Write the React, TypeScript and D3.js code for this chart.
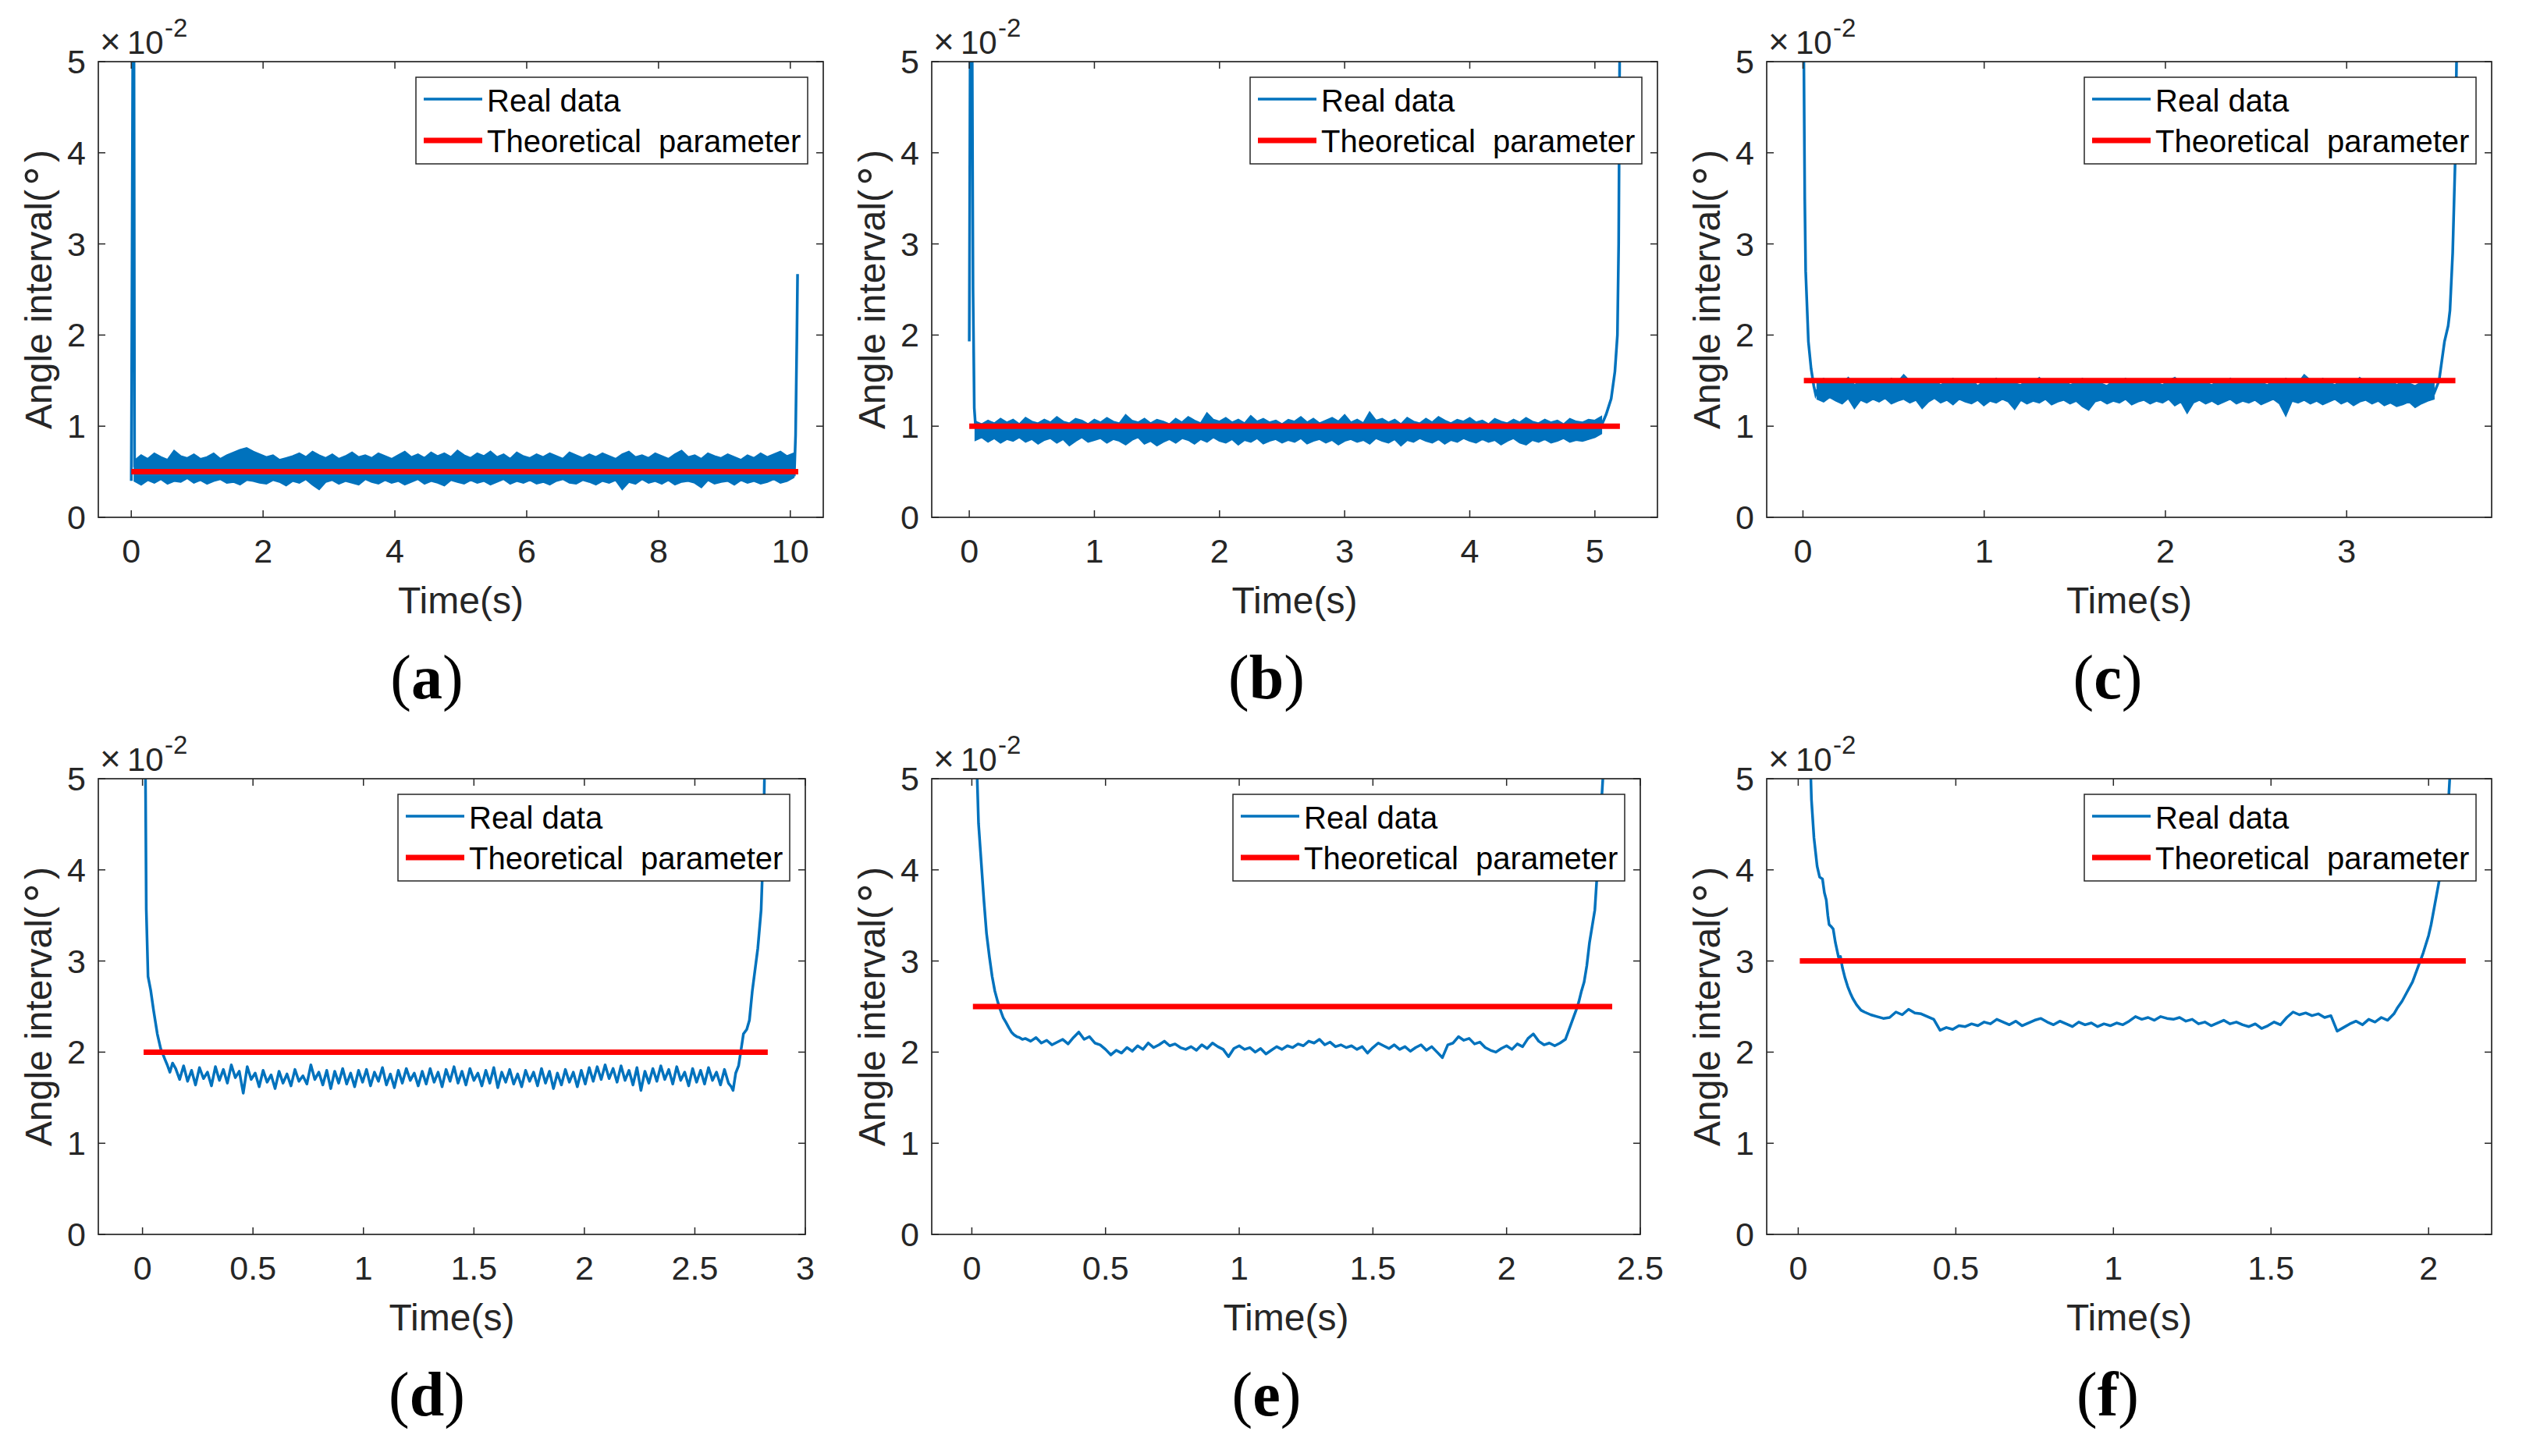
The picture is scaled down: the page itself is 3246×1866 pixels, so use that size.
import React from 'react';
import * as d3 from 'd3';

type Pt = [number, number];

// ---- data (angle interval in units of 1e-2 degree, time in s) ----
const yTicks = [0, 1, 2, 3, 4, 5];

const xDomainA = [-0.5, 10.5];
const xDomainB = [-0.3, 5.5];
const xDomainC = [-0.2, 3.8];
const xDomainD = [-0.2, 3];
const xDomainE = [-0.15, 2.5];
const xDomainF = [-0.1, 2.2];

const xTicksA = [0, 2, 4, 6, 8, 10];
const xTicksB = [0, 1, 2, 3, 4, 5];
const xTicksC = [0, 1, 2, 3];
const xTicksD = [0, 0.5, 1, 1.5, 2, 2.5, 3];
const xTicksE = [0, 0.5, 1, 1.5, 2, 2.5];
const xTicksF = [0, 0.5, 1, 1.5, 2];

// theoretical parameter: value and time span
const theoryValue = [0.5, 1.0, 1.5, 2.0, 2.5, 3.0];
const theorySpan: Pt[] = [[0, 10.12], [0, 5.2], [0.005, 3.6], [0.005, 2.83], [0.004, 2.395], [0.005, 2.118]];

// (a) dense noisy record: envelope per time bin
const aBandStart = 0.05, aBandStep = 0.1;
const aBandHi = [
  0.62, 0.68, 0.64, 0.70, 0.66, 0.63, 0.73, 0.67, 0.65, 0.69,
  0.64, 0.66, 0.70, 0.64, 0.68, 0.71, 0.74, 0.76, 0.72, 0.69,
  0.66, 0.68, 0.63, 0.65, 0.67, 0.70, 0.66, 0.72, 0.68, 0.65,
  0.69, 0.64, 0.67, 0.71, 0.66, 0.68, 0.65, 0.70, 0.67, 0.64,
  0.68, 0.72, 0.66, 0.69, 0.65, 0.71, 0.67, 0.70, 0.66, 0.73,
  0.68, 0.65, 0.70, 0.67, 0.72, 0.66, 0.69, 0.64, 0.71, 0.67,
  0.65, 0.69, 0.66, 0.70, 0.67, 0.64, 0.71, 0.68, 0.65, 0.69,
  0.66, 0.70, 0.67, 0.64, 0.69, 0.72, 0.66, 0.68, 0.65, 0.70,
  0.67, 0.64, 0.69, 0.73, 0.66, 0.68, 0.64, 0.70, 0.67, 0.65,
  0.69, 0.66, 0.63, 0.68, 0.65, 0.70, 0.66, 0.69, 0.72, 0.67,
  0.70,
];
const aBandLo = [
  0.40, 0.36, 0.41, 0.38, 0.42, 0.37, 0.40, 0.39, 0.43, 0.38,
  0.41, 0.37, 0.40, 0.42, 0.38, 0.39, 0.36, 0.41, 0.40, 0.38,
  0.37, 0.41, 0.39, 0.35, 0.40, 0.38, 0.42, 0.36, 0.31, 0.39,
  0.41, 0.37, 0.40, 0.38, 0.36, 0.42, 0.39, 0.37, 0.41, 0.38,
  0.40, 0.36, 0.39, 0.42, 0.37, 0.40, 0.38, 0.35, 0.41, 0.39,
  0.37, 0.41, 0.38, 0.40, 0.36, 0.39, 0.42, 0.37, 0.40, 0.38,
  0.41, 0.37, 0.39, 0.36, 0.40, 0.42, 0.38, 0.37, 0.41, 0.39,
  0.36, 0.40, 0.38, 0.41, 0.31, 0.39, 0.37, 0.42, 0.38, 0.40,
  0.37, 0.41, 0.36, 0.39, 0.40, 0.38, 0.33, 0.41, 0.37, 0.39,
  0.40, 0.36, 0.41, 0.38, 0.40, 0.37, 0.39, 0.42, 0.38, 0.40,
  0.44,
];
const aHead: Pt[] = [[0, 0.40], [0.005, 1.35], [0.025, 5.6], [0.04, 5.6], [0.05, 0.55]];
const aTail: Pt[] = [[10.05, 0.60], [10.06, 0.45], [10.08, 0.9], [10.10, 2.0], [10.11, 2.67]];

// (b)
const bBandStart = 0.05, bBandStep = 0.05;
const bBandHi = [
  1.05, 1.02, 1.06, 1.03, 1.08, 1.04, 1.07, 1.02, 1.09, 1.05,
  1.03, 1.07, 1.04, 1.10, 1.05, 1.03, 1.08, 1.06, 1.02, 1.07,
  1.04, 1.09, 1.05, 1.03, 1.12, 1.06, 1.04, 1.08, 1.03, 1.07,
  1.05, 1.02, 1.08, 1.04, 1.10, 1.06, 1.03, 1.14, 1.07, 1.05,
  1.09, 1.04, 1.07, 1.03, 1.11, 1.05, 1.08, 1.04, 1.06, 1.02,
  1.07, 1.05, 1.10, 1.04, 1.08, 1.03, 1.06, 1.09, 1.05, 1.12,
  1.04, 1.07, 1.03, 1.15, 1.06, 1.08, 1.04, 1.07, 1.02, 1.09,
  1.05, 1.03, 1.08, 1.04, 1.10, 1.06, 1.03, 1.07, 1.05, 1.09,
  1.04, 1.06, 1.02, 1.08, 1.05, 1.03, 1.07, 1.04, 1.09, 1.05,
  1.03, 1.07, 1.04, 1.06, 1.02, 1.08, 1.05, 1.04, 1.07, 1.06,
  1.10,
];
const bBandLo = [
  0.85, 0.88, 0.83, 0.87, 0.82, 0.86, 0.84, 0.88, 0.83, 0.86,
  0.81, 0.85, 0.87, 0.82, 0.86, 0.79, 0.84, 0.88, 0.83, 0.85,
  0.87, 0.82, 0.86, 0.84, 0.80, 0.85, 0.88, 0.81, 0.84, 0.79,
  0.83, 0.86, 0.82, 0.87, 0.85, 0.81, 0.86, 0.83, 0.88, 0.84,
  0.82, 0.86, 0.80, 0.85, 0.83, 0.87, 0.81, 0.84, 0.86, 0.82,
  0.85, 0.83, 0.87, 0.81, 0.84, 0.86, 0.82, 0.85, 0.80, 0.84,
  0.86, 0.83, 0.85, 0.81, 0.87, 0.84, 0.82, 0.86, 0.79, 0.85,
  0.83, 0.87, 0.84, 0.82, 0.86, 0.81, 0.85, 0.83, 0.87, 0.84,
  0.82, 0.86, 0.83, 0.85, 0.80, 0.84, 0.87, 0.82, 0.80, 0.85,
  0.83, 0.86, 0.82, 0.84, 0.87, 0.83, 0.85, 0.84, 0.86, 0.88,
  0.92,
];
const bHead: Pt[] = [[0, 1.93], [0.008, 5.6], [0.022, 5.6], [0.03, 2.5], [0.04, 1.2], [0.05, 1.0]];
const bTail: Pt[] = [[5.05, 1.0], [5.09, 1.13], [5.13, 1.3], [5.16, 1.6], [5.18, 2.0], [5.19, 3.0], [5.2, 5.6]];

// (c)
const cBandStart = 0.08, cBandStep = 0.034;
const cBandHi = [
  1.48, 1.52, 1.46, 1.50, 1.47, 1.53, 1.45, 1.49, 1.51, 1.46,
  1.50, 1.47, 1.52, 1.48, 1.56, 1.49, 1.46, 1.51, 1.47, 1.50,
  1.45, 1.49, 1.52, 1.46, 1.48, 1.51, 1.44, 1.49, 1.47, 1.52,
  1.46, 1.50, 1.47, 1.45, 1.51, 1.48, 1.53, 1.46, 1.49, 1.47,
  1.51, 1.45, 1.48, 1.52, 1.46, 1.49, 1.47, 1.44, 1.50, 1.48,
  1.52, 1.47, 1.49, 1.46, 1.51, 1.48, 1.45, 1.50, 1.53, 1.47,
  1.49, 1.46, 1.51, 1.48, 1.45, 1.50, 1.47, 1.52, 1.46, 1.49,
  1.47, 1.51, 1.48, 1.45, 1.50, 1.46, 1.52, 1.49, 1.47, 1.56,
  1.50, 1.47, 1.52, 1.48, 1.45, 1.51, 1.49, 1.46, 1.53, 1.48,
  1.46, 1.50, 1.47, 1.51, 1.45, 1.49, 1.47, 1.44, 1.48, 1.46,
  1.50,
];
const cBandLo = [
  1.30, 1.27, 1.32, 1.28, 1.25, 1.31, 1.20, 1.29, 1.26, 1.30,
  1.27, 1.31, 1.25, 1.28, 1.30, 1.26, 1.29, 1.20, 1.27, 1.31,
  1.26, 1.29, 1.24, 1.30, 1.27, 1.25, 1.29, 1.23, 1.28, 1.26,
  1.30, 1.27, 1.19, 1.29, 1.25, 1.28, 1.26, 1.30, 1.24, 1.27,
  1.29, 1.25, 1.28, 1.22, 1.18, 1.27, 1.29, 1.25, 1.28, 1.26,
  1.30, 1.24, 1.27, 1.29, 1.25, 1.28, 1.26, 1.30, 1.23, 1.27,
  1.15, 1.26, 1.29, 1.25, 1.28, 1.24, 1.27, 1.30, 1.25, 1.28,
  1.26, 1.29, 1.24, 1.27, 1.30, 1.25, 1.12, 1.28, 1.26, 1.29,
  1.25, 1.28, 1.24, 1.27, 1.30, 1.25, 1.28, 1.23, 1.27, 1.29,
  1.25, 1.28, 1.23, 1.26, 1.22, 1.24, 1.27, 1.21, 1.25, 1.28,
  1.30,
];
const cHead: Pt[] = [[0.003, 5.6], [0.01, 3.5], [0.015, 2.7], [0.03, 1.93], [0.045, 1.63], [0.06, 1.44], [0.07, 1.35], [0.08, 1.40]];
const cTail: Pt[] = [[3.48, 1.35], [3.51, 1.50], [3.54, 1.93], [3.56, 2.1], [3.57, 2.27], [3.585, 2.9], [3.6, 4.0], [3.61, 5.6]];

// (d) sampled record
const dHead: Pt[] = [[0.012, 5.6], [0.017, 3.57], [0.025, 2.83], [0.037, 2.68], [0.05, 2.46], [0.067, 2.2], [0.082, 2.04], [0.1, 1.93], [0.112, 1.86], [0.124, 1.78], [0.136, 1.88]];
const dMidStart = 0.15, dMidStep = 0.018;
const dMid = [
  1.82, 1.70, 1.85, 1.68, 1.80, 1.64, 1.83, 1.71, 1.78, 1.63, 1.84, 1.69,
  1.81, 1.66, 1.86, 1.72, 1.79, 1.55, 1.84, 1.70, 1.77, 1.62, 1.80, 1.67,
  1.75, 1.60, 1.79, 1.66, 1.76, 1.63, 1.81, 1.68, 1.74, 1.65, 1.86, 1.70,
  1.78, 1.64, 1.80, 1.60, 1.79, 1.66, 1.82, 1.65, 1.77, 1.62, 1.80, 1.67,
  1.81, 1.63, 1.78, 1.68, 1.83, 1.64, 1.76, 1.61, 1.80, 1.66, 1.82, 1.69,
  1.77, 1.63, 1.79, 1.65, 1.82, 1.67, 1.78, 1.62, 1.81, 1.68, 1.84, 1.66,
  1.79, 1.64, 1.82, 1.69, 1.77, 1.63, 1.80, 1.66, 1.83, 1.61, 1.78, 1.67,
  1.81, 1.65, 1.76, 1.62, 1.80, 1.68, 1.78, 1.63, 1.82, 1.66, 1.79, 1.60,
  1.77, 1.64, 1.81, 1.67, 1.78, 1.62, 1.80, 1.65, 1.83, 1.68, 1.84, 1.70,
  1.86, 1.71, 1.82, 1.67, 1.85, 1.69, 1.80, 1.64, 1.83, 1.58, 1.79, 1.66,
  1.82, 1.68, 1.85, 1.70, 1.81, 1.65, 1.84, 1.69, 1.78, 1.63, 1.82, 1.67,
  1.80, 1.65, 1.83, 1.69, 1.78, 1.64, 1.81, 1.66,
];
const dTail: Pt[] = [[2.665, 1.62], [2.673, 1.58], [2.685, 1.77], [2.698, 1.85], [2.71, 2.04], [2.72, 2.2], [2.735, 2.25], [2.747, 2.35], [2.76, 2.67], [2.785, 3.14], [2.8, 3.56], [2.81, 4.25], [2.815, 5.0], [2.82, 5.6]];

// (e)
const eHead: Pt[] = [[0.014, 5.6], [0.025, 4.51], [0.035, 4.09], [0.045, 3.67], [0.055, 3.3], [0.066, 3.04], [0.076, 2.83], [0.086, 2.67], [0.097, 2.55], [0.107, 2.46], [0.117, 2.38], [0.127, 2.33], [0.138, 2.27], [0.148, 2.22], [0.158, 2.19], [0.168, 2.17], [0.178, 2.16], [0.189, 2.14]];
const eMidStart = 0.2, eMidStep = 0.02;
const eMid = [
  2.15, 2.12, 2.16, 2.10, 2.13, 2.08, 2.11, 2.14, 2.09, 2.16,
  2.22, 2.14, 2.17, 2.10, 2.08, 2.03, 1.97, 2.02, 1.99, 2.05,
  2.01, 2.07, 2.03, 2.10, 2.05, 2.08, 2.12, 2.07, 2.09, 2.05,
  2.03, 2.06, 2.02, 2.08, 2.04, 2.10, 2.06, 2.03, 1.95, 2.04,
  2.07, 2.03, 2.05, 2.00, 2.04, 1.98, 2.02, 2.06, 2.03, 2.07,
  2.05, 2.09, 2.07, 2.12, 2.10, 2.14, 2.08, 2.11, 2.06, 2.08,
  2.05, 2.07, 2.03, 2.06, 1.99, 2.05, 2.10, 2.07, 2.04, 2.08,
  2.03, 2.06, 2.01, 2.05, 2.08, 2.02, 2.06, 2.00, 1.94, 2.08,
  2.10, 2.17, 2.13, 2.15, 2.09, 2.11, 2.05, 2.02, 2.00, 2.04,
  2.07, 2.03, 2.09, 2.06, 2.15, 2.20, 2.12, 2.08, 2.10, 2.07,
  2.10,
];
const eTail: Pt[] = [[2.22, 2.14], [2.24, 2.30], [2.26, 2.46], [2.27, 2.55], [2.28, 2.67], [2.29, 2.77], [2.30, 2.95], [2.31, 3.2], [2.33, 3.56], [2.345, 4.25], [2.36, 5.0], [2.365, 5.6]];

// (f)
const fHead: Pt[] = [[0.035, 5.6], [0.042, 4.77], [0.05, 4.35], [0.06, 4.04], [0.068, 3.92], [0.077, 3.9], [0.083, 3.75], [0.089, 3.67], [0.094, 3.5], [0.098, 3.40], [0.104, 3.38], [0.111, 3.35], [0.118, 3.2], [0.128, 3.04], [0.134, 3.05], [0.14, 2.93], [0.148, 2.82], [0.157, 2.72], [0.165, 2.65], [0.173, 2.59], [0.185, 2.52], [0.199, 2.46]];
const fMidStart = 0.21, fMidStep = 0.02;
const fMid = [
  2.44, 2.41, 2.39, 2.37, 2.38, 2.44, 2.41, 2.47, 2.43, 2.42,
  2.39, 2.36, 2.24, 2.27, 2.25, 2.29, 2.28, 2.31, 2.29, 2.33,
  2.31, 2.36, 2.33, 2.30, 2.34, 2.29, 2.32, 2.35, 2.37, 2.33,
  2.30, 2.34, 2.31, 2.28, 2.33, 2.30, 2.32, 2.28, 2.31, 2.29,
  2.32, 2.30, 2.34, 2.39, 2.36, 2.38, 2.35, 2.39, 2.37, 2.36,
  2.38, 2.34, 2.36, 2.31, 2.33, 2.29, 2.32, 2.35, 2.31, 2.33,
  2.30, 2.28, 2.31, 2.26, 2.29, 2.33, 2.30, 2.38, 2.44, 2.41,
  2.43, 2.40, 2.42, 2.38, 2.40, 2.23, 2.27, 2.31, 2.34, 2.30,
  2.36, 2.33, 2.38, 2.35, 2.42,
];
const fTail: Pt[] = [[1.90, 2.48], [1.916, 2.56], [1.93, 2.65], [1.949, 2.77], [1.965, 2.92], [1.983, 3.09], [2.0, 3.28], [2.008, 3.40], [2.025, 3.72], [2.042, 4.04], [2.059, 4.51], [2.067, 5.0], [2.07, 5.6]];

const panelKeys = ['a', 'b', 'c', 'd', 'e', 'f'];
const legendLabels = ['Real data', 'Theoretical  parameter'];

// ---- look ----
const BLUE = '#0072BD';
const RED = '#FF0000';
const INK = '#262626';
const SANS = '"Liberation Sans", Arial, Helvetica, sans-serif';
const SERIF = '"Liberation Serif", "Times New Roman", Times, serif';
const PH = 584;

interface Band { start: number; step: number; hi: number[]; lo: number[] }
interface Mid { start: number; step: number; values: number[] }
interface PanelSpec {
  key: string; left: number; right: number; top: number; labelX: number;
  domain: number[]; ticks: number[];
  head: Pt[]; tail: Pt[]; band?: Band; mid?: Mid;
  theory: number; span: Pt;
}

const layout = [
  { left: 126, right: 1055, top: 79, labelX: 547 },
  { left: 1194, right: 2124, top: 79, labelX: 1623 },
  { left: 2264, right: 3193, top: 79, labelX: 2701 },
  { left: 126, right: 1032, top: 998, labelX: 547 },
  { left: 1194, right: 2102, top: 998, labelX: 1623 },
  { left: 2264, right: 3193, top: 998, labelX: 2701 },
];

const panels: PanelSpec[] = [
  { key: panelKeys[0], ...layout[0], domain: xDomainA, ticks: xTicksA, head: aHead, tail: aTail,
    band: { start: aBandStart, step: aBandStep, hi: aBandHi, lo: aBandLo }, theory: theoryValue[0], span: theorySpan[0] },
  { key: panelKeys[1], ...layout[1], domain: xDomainB, ticks: xTicksB, head: bHead, tail: bTail,
    band: { start: bBandStart, step: bBandStep, hi: bBandHi, lo: bBandLo }, theory: theoryValue[1], span: theorySpan[1] },
  { key: panelKeys[2], ...layout[2], domain: xDomainC, ticks: xTicksC, head: cHead, tail: cTail,
    band: { start: cBandStart, step: cBandStep, hi: cBandHi, lo: cBandLo }, theory: theoryValue[2], span: theorySpan[2] },
  { key: panelKeys[3], ...layout[3], domain: xDomainD, ticks: xTicksD, head: dHead, tail: dTail,
    mid: { start: dMidStart, step: dMidStep, values: dMid }, theory: theoryValue[3], span: theorySpan[3] },
  { key: panelKeys[4], ...layout[4], domain: xDomainE, ticks: xTicksE, head: eHead, tail: eTail,
    mid: { start: eMidStart, step: eMidStep, values: eMid }, theory: theoryValue[4], span: theorySpan[4] },
  { key: panelKeys[5], ...layout[5], domain: xDomainF, ticks: xTicksF, head: fHead, tail: fTail,
    mid: { start: fMidStart, step: fMidStep, values: fMid }, theory: theoryValue[5], span: theorySpan[5] },
];

function Panel({ p }: { p: PanelSpec }) {
  const bottom = p.top + PH;
  const x = d3.scaleLinear().domain(p.domain).range([p.left, p.right]);
  const y = d3.scaleLinear().domain([0, 5]).range([bottom, p.top]);
  const line = d3.line<Pt>().x(d => x(d[0])).y(d => y(d[1]));
  const clipId = 'clip-' + p.key;

  let blue: React.ReactNode = null;
  if (p.band) {
    const b = p.band;
    const rows = b.hi.map((h, i) => ({ t: b.start + i * b.step, hi: h, lo: b.lo[i] }));
    const area = d3.area<{ t: number; hi: number; lo: number }>()
      .x(d => x(d.t)).y0(d => y(d.lo)).y1(d => y(d.hi));
    blue = (
      <g>
        <path d={area(rows) || ''} fill={BLUE} stroke={BLUE} strokeWidth={2.5} strokeLinejoin="miter" />
        <path d={line(p.head) || ''} fill="none" stroke={BLUE} strokeWidth={3.5} />
        <path d={line(p.tail) || ''} fill="none" stroke={BLUE} strokeWidth={3.5} />
      </g>
    );
  } else if (p.mid) {
    const m = p.mid;
    const pts: Pt[] = [
      ...p.head,
      ...m.values.map((v, i) => [m.start + i * m.step, v] as Pt),
      ...p.tail,
    ];
    blue = <path d={line(pts) || ''} fill="none" stroke={BLUE} strokeWidth={3.5} strokeLinejoin="round" />;
  }

  const theoryPts: Pt[] = [[p.span[0], p.theory], [p.span[1], p.theory]];

  const lgW = 502, lgH = 111;
  const lgX = p.right - 20 - lgW;
  const lgY = p.top + 20;
  const midX = (p.left + p.right) / 2;
  const midY = (p.top + bottom) / 2;

  return (
    <g>
      <defs>
        <clipPath id={clipId}>
          <rect x={p.left} y={p.top} width={p.right - p.left} height={PH} />
        </clipPath>
      </defs>
      <g clipPath={`url(#${clipId})`}>
        {blue}
        <path d={line(theoryPts) || ''} fill="none" stroke={RED} strokeWidth={7} />
      </g>

      {/* axes box and ticks */}
      <rect x={p.left} y={p.top} width={p.right - p.left} height={PH} fill="none" stroke={INK} strokeWidth={1.7} />
      {p.ticks.map(t => (
        <g key={'xt' + t}>
          <line x1={x(t)} x2={x(t)} y1={bottom} y2={bottom - 9} stroke={INK} strokeWidth={1.5} />
          <line x1={x(t)} x2={x(t)} y1={p.top} y2={p.top + 9} stroke={INK} strokeWidth={1.5} />
          <text x={x(t)} y={bottom + 58} textAnchor="middle" fontFamily={SANS} fontSize={43} fill={INK}>{String(t)}</text>
        </g>
      ))}
      {yTicks.map(t => (
        <g key={'yt' + t}>
          <line x1={p.left} x2={p.left + 9} y1={y(t)} y2={y(t)} stroke={INK} strokeWidth={1.5} />
          <line x1={p.right} x2={p.right - 9} y1={y(t)} y2={y(t)} stroke={INK} strokeWidth={1.5} />
          <text x={p.left - 16} y={y(t) + 15} textAnchor="end" fontFamily={SANS} fontSize={43} fill={INK}>{String(t)}</text>
        </g>
      ))}
      <text y={p.top - 10} fontFamily={SANS} fill={INK}>
        <tspan x={p.left + 2} fontSize={46}>×</tspan>
        <tspan x={p.left + 37} fontSize={42}>10</tspan>
        <tspan x={p.left + 85} fontSize={33} dy={-22}>-2</tspan>
      </text>

      <text x={midX} y={bottom + 123} textAnchor="middle" fontFamily={SANS} fontSize={48} fill={INK}>Time(s)</text>
      <text transform={`translate(${p.left - 60},${midY}) rotate(-90)`} textAnchor="middle" fontFamily={SANS} fontSize={48} fill={INK}>
        Angle interval(<tspan fontFamily="DejaVu Sans" fontSize={56} dy={-8}>∘</tspan><tspan dy={8}>)</tspan>
      </text>

      {/* legend */}
      <rect x={lgX} y={lgY} width={lgW} height={lgH} fill="#fff" stroke={INK} strokeWidth={1.5} />
      <line x1={lgX + 10} x2={lgX + 85} y1={lgY + 28} y2={lgY + 28} stroke={BLUE} strokeWidth={3.5} />
      <text x={lgX + 91} y={lgY + 44} fontFamily={SANS} fontSize={40} fill="#000">{legendLabels[0]}</text>
      <line x1={lgX + 10} x2={lgX + 85} y1={lgY + 81} y2={lgY + 81} stroke={RED} strokeWidth={7} />
      <text x={lgX + 91} y={lgY + 96} fontFamily={SANS} fontSize={40} fill="#000" style={{ whiteSpace: 'pre' }}>{legendLabels[1]}</text>

      <text x={p.labelX} y={p.top + 816} textAnchor="middle" fontFamily={SERIF} fontSize={80} fill="#000">
        (<tspan fontWeight="bold">{p.key}</tspan>)
      </text>
    </g>
  );
}

export default function App() {
  return (
    <svg width={3246} height={1866} viewBox="0 0 3246 1866"
      style={{ position: 'absolute', left: 0, top: 0, background: '#fff' }}>
      <rect width={3246} height={1866} fill="#fff" />
      {panels.map(p => <Panel key={p.key} p={p} />)}
    </svg>
  );
}
